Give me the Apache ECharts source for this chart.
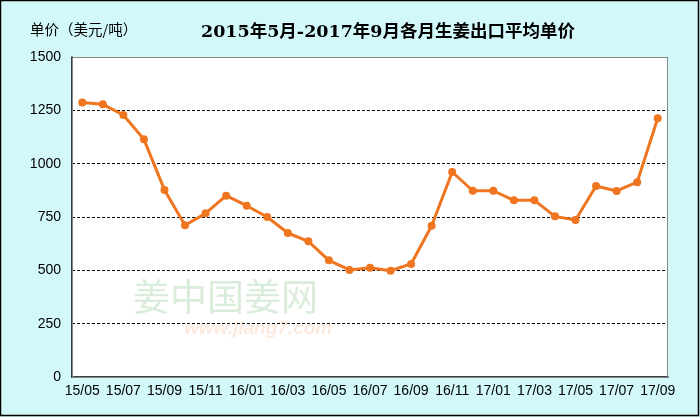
<!DOCTYPE html>
<html><head><meta charset="utf-8">
<script src="https://cdn.jsdelivr.net/npm/echarts@6/dist/echarts.min.js"></script>
<style>html,body{margin:0;padding:0;background:#fff}#c{width:700px;height:417px}</style>
</head><body><div id="c"></div>
<script>
const categories = ['15/05','15/06','15/07','15/08','15/09','15/10','15/11','15/12','16/01','16/02','16/03','16/04','16/05','16/06','16/07','16/08','16/09','16/10','16/11','16/12','17/01','17/02','17/03','17/04','17/05','17/06','17/07','17/08','17/09'];
const prices = [1287,1278,1228,1114,877,711,767,850,803,750,675,636,547,502,512,498,530,709,961,873,873,828,828,753,736,895,872,913,1213];
const yTicks = [0,250,500,750,1000,1250,1500];
const titleText = '2015年5月-2017年9月各月生姜出口平均单价';
const yName = '单价（美元/吨）';

const chart = echarts.init(document.getElementById('c'), null, {renderer:'canvas'});
chart.setOption({
  backgroundColor: '#d2f8fa',
  animation: false,
  title: {
    text: titleText, left: 383, top: 19, textAlign: 'center',
    textStyle: {fontFamily: '"DejaVu Serif", "Noto Sans CJK SC", serif', fontWeight: 'bold', fontSize: 17.5, color: '#000'}
  },
  graphic: [
    {type:'rect', shape:{x:0.5,y:0.5,width:698,height:415}, style:{fill:null, stroke:'#000', lineWidth:1.5}, z:100},
    {type:'text', left:30, top:22, style:{text: yName, font:'14.5px "Noto Sans CJK SC", sans-serif', fill:'#000'}},
    {type:'rect', shape:{x:72.5,y:57.5,width:595,height:320}, style:{fill:null, stroke:'#888', lineWidth:1}, z:50},
    {type:'text', left:133, top:278, style:{text:'姜中国姜网', font:'37px "Noto Sans CJK SC", sans-serif', fill:'rgba(150,200,150,0.35)'}, z:2},
    {type:'text', left:184, top:319, style:{text:'www.jiang7.com', font:'italic bold 19px "Liberation Sans", Arial, sans-serif', fill:'rgba(245,185,150,0.3)'}, z:2}
  ],
  grid: {left:72, right:32, top:57, bottom:40, backgroundColor:'#fff', show:true, borderWidth:0},
  xAxis: {
    type:'category', data: categories, boundaryGap: true,
    axisLine:{show:true, lineStyle:{color:'#000', width:1.5}, z:60},
    axisTick:{show:false},
    axisLabel:{interval:1, color:'#000', fontSize:14, fontFamily:'"Liberation Sans", Arial, sans-serif', margin:7}
  },
  yAxis: {
    type:'value', min:yTicks[0], max:yTicks[yTicks.length-1], interval:250,
    axisLine:{show:true, lineStyle:{color:'#000', width:1.5}},
    axisTick:{show:false},
    axisLabel:{color:'#000', fontSize:14, fontFamily:'"Liberation Sans", Arial, sans-serif', margin:11, formatter: v => String(v)},
    splitLine:{show:true, lineStyle:{color:'#000', type:[3,2], width:1}}
  },
  series: [{
    type:'line', data: prices,
    symbol:'circle', symbolSize:8,
    lineStyle:{color:'#f07520', width:3},
    itemStyle:{color:'#f07520'},
    z:5
  }]
});
</script></body></html>
